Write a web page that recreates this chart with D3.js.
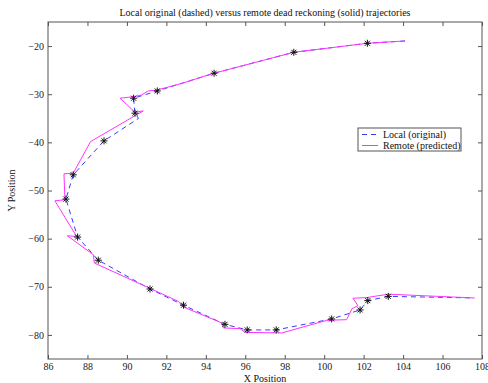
<!DOCTYPE html>
<html>
<head>
<meta charset="utf-8">
<script src="https://cdn.jsdelivr.net/npm/d3@7"></script>
<style>
  body { margin: 0; background: #fff; }
  text { font-family: "Liberation Serif", "Times New Roman", serif; }
</style>
</head>
<body>
<div id="chart"></div>
<script>
// local (original) trajectory - dashed
const localX = [104.10, 102.19, 98.46, 94.42, 91.54, 90.34, 90.41, 90.59, 88.84, 87.28, 86.91, 87.50, 88.55, 91.17, 92.87, 94.97, 96.10, 97.57, 100.38, 101.82, 102.21, 103.25, 107.61];
const localY = [-18.94, -19.42, -21.29, -25.64, -29.32, -30.83, -33.94, -35.02, -39.69, -46.74, -51.78, -59.67, -64.48, -70.46, -73.82, -77.80, -78.96, -78.96, -76.68, -74.81, -72.88, -71.99, -72.32];

// sample points (stars)
const markX = [102.19, 98.46, 94.42, 91.54, 90.34, 90.41, 88.84, 87.28, 86.91, 87.50, 88.55, 91.17, 92.87, 94.97, 96.10, 97.57, 100.38, 101.82, 102.21, 103.25];
const markY = [-19.42, -21.29, -25.64, -29.32, -30.83, -33.94, -39.69, -46.74, -51.78, -59.67, -64.48, -70.46, -73.82, -77.80, -78.96, -78.96, -76.68, -74.81, -72.88, -71.99];

// remote (predicted) trajectory - solid
const remoteX = [104.10, 102.19, 98.46, 94.42, 92.69, 91.54, 91.08, 90.75, 90.36, 89.65, 90.41, 90.83, 88.16, 87.28, 86.81, 86.86, 86.35, 87.45, 86.98, 88.30, 88.35, 92.61, 92.86, 94.81, 94.89, 95.73, 95.99, 97.85, 100.13, 101.14, 101.41, 101.71, 101.46, 102.12, 103.25, 107.61];
const remoteY = [-18.94, -19.42, -21.29, -25.64, -27.86, -29.11, -29.32, -30.15, -30.50, -30.83, -33.73, -33.46, -39.83, -46.39, -46.54, -51.93, -52.14, -59.54, -59.40, -63.34, -65.06, -73.03, -74.19, -77.51, -78.55, -78.69, -79.46, -79.59, -76.97, -76.83, -74.54, -73.92, -72.37, -72.26, -71.54, -72.32];

const xTicks = [86, 88, 90, 92, 94, 96, 98, 100, 102, 104, 106, 108];
const yTicks = [-80, -70, -60, -50, -40, -30, -20];

const margin = {top: 22, right: 6, bottom: 24, left: 48};
const width = 488 - margin.left - margin.right;
const height = 383 - margin.top - margin.bottom;
const fontSize = 10;

const svg = d3.select("#chart")
  .append("svg")
  .attr("width", 488)
  .attr("height", 383)
  .append("g")
  .attr("transform", `translate(${margin.left}, ${margin.top})`);

const xScale = d3.scaleLinear().domain([86, 108]).range([0, width]);
const yScale = d3.scaleLinear().domain([-85, -15]).range([height, 0]);

const axisColor = "#555";

function styleAxis(g) {
  g.select(".domain").remove();
  g.selectAll(".tick line").attr("stroke", axisColor);
  g.selectAll(".tick text").attr("fill", "#222").attr("font-size", fontSize)
    .style("font-family", "Liberation Serif, serif");
}

svg.append("g")
  .attr("transform", `translate(0, ${height})`)
  .call(d3.axisBottom(xScale).tickValues(xTicks).tickSize(-4).tickPadding(4).tickFormat(d3.format("d")))
  .call(styleAxis);

svg.append("g")
  .call(d3.axisTop(xScale).tickValues(xTicks).tickSize(-4).tickFormat(""))
  .call(styleAxis);

svg.append("g")
  .call(d3.axisLeft(yScale).tickValues(yTicks).tickSize(-4).tickPadding(4).tickFormat(d3.format("d")))
  .call(styleAxis);

svg.append("g")
  .attr("transform", `translate(${width}, 0)`)
  .call(d3.axisRight(yScale).tickValues(yTicks).tickSize(-4).tickFormat(""))
  .call(styleAxis);

svg.append("rect")
  .attr("x", 0).attr("y", 0)
  .attr("width", width).attr("height", height)
  .attr("fill", "none")
  .attr("stroke", axisColor);

const line = d3.line()
  .x(d => xScale(d[0]))
  .y(d => yScale(d[1]));

const localPts = localX.map((x, i) => [x, localY[i]]);
const remotePts = remoteX.map((x, i) => [x, remoteY[i]]);

svg.append("path")
  .attr("d", line(localPts))
  .attr("fill", "none")
  .attr("stroke", "#3a3aff")
  .attr("stroke-width", 1)
  .attr("stroke-dasharray", "5,4");

svg.append("path")
  .attr("d", line(remotePts))
  .attr("fill", "none")
  .attr("stroke", "#ff33ff")
  .attr("stroke-width", 1);

// star markers
const starPath = "M-3.5,0H3.5M0,-3.5V3.5M-2.5,-2.5L2.5,2.5M-2.5,2.5L2.5,-2.5";
svg.selectAll(".star")
  .data(markX.map((x, i) => [x, markY[i]]))
  .enter()
  .append("path")
  .attr("class", "star")
  .attr("transform", d => `translate(${xScale(d[0])}, ${yScale(d[1])})`)
  .attr("d", starPath)
  .attr("stroke", "#111")
  .attr("stroke-width", 1)
  .attr("fill", "none");

// title and labels
svg.append("text")
  .attr("x", width / 2)
  .attr("y", -6)
  .attr("text-anchor", "middle")
  .attr("font-size", fontSize)
  .attr("fill", "#111")
  .text("Local original (dashed) versus remote dead reckoning (solid) trajectories");

svg.append("text")
  .attr("x", width / 2)
  .attr("y", height + 23)
  .attr("text-anchor", "middle")
  .attr("font-size", fontSize)
  .attr("fill", "#111")
  .text("X Position");

svg.append("text")
  .attr("transform", "rotate(-90)")
  .attr("x", -height / 2)
  .attr("y", -33)
  .attr("text-anchor", "middle")
  .attr("font-size", fontSize)
  .attr("fill", "#111")
  .text("Y Position");

// legend
const legend = svg.append("g")
  .attr("transform", `translate(${358 - margin.left}, ${128 - margin.top})`);

legend.append("rect")
  .attr("width", 103).attr("height", 23)
  .attr("fill", "#fff")
  .attr("stroke", axisColor);

const legendItems = [
  {label: "Local (original)", color: "#3a3aff", dash: "5,4"},
  {label: "Remote (predicted)", color: "#ff33ff", dash: null}
];

legendItems.forEach((d, i) => {
  const y = 6.5 + i * 11;
  legend.append("line")
    .attr("x1", 4).attr("x2", 20)
    .attr("y1", y).attr("y2", y)
    .attr("stroke", d.color)
    .attr("stroke-width", 1)
    .attr("stroke-dasharray", d.dash);
  legend.append("text")
    .attr("x", 25)
    .attr("y", y + 3.5)
    .attr("font-size", fontSize)
    .attr("fill", "#111")
    .text(d.label);
});
</script>
</body>
</html>
